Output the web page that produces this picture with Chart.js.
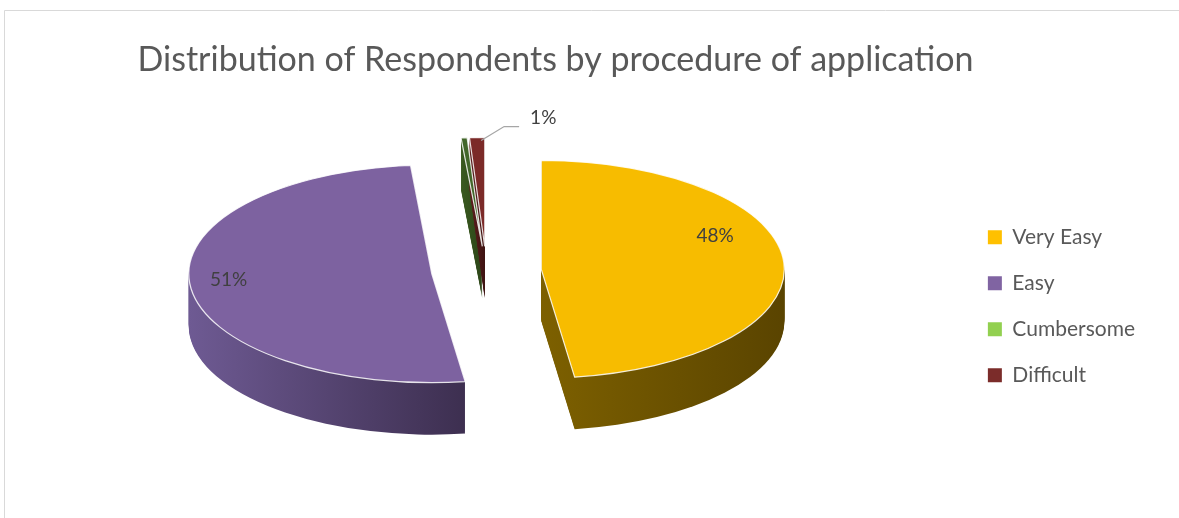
<!DOCTYPE html>
<html>
<head>
<meta charset="utf-8">
<script src="https://cdn.jsdelivr.net/npm/chart.js@4/dist/chart.umd.min.js"></script>
<style>
  html, body { margin: 0; padding: 0; background: #fff; }
  #wrap { width: 1179px; height: 518px; }
</style>
</head>
<body>
<div id="wrap"><canvas id="pieChart" width="1179" height="518"></canvas></div>
<script>
const chartTitle = "Distribution of Respondents by procedure of application";
const categories = ["Very Easy", "Easy", "Cumbersome", "Difficult"];
const shares = [48, 51, 0.4, 1];

// legend swatches and the flat top of each slice
const legendColors = ["#FFC000", "#8064A2", "#92D050", "#7B2C2A"];
const topColors = ["#F7BC00", "#7D62A0", "#42662A", "#7B2A28"];
// side walls, light edge -> dark edge
const sideColors = [
    ["#7d6000", "#5a4400"],
    ["#6e5a93", "#3d2f50"],
    ["#3a5a20", "#2c4418"],
    ["#5e1f1e", "#3e1312"]
];
// where the percentage sits on each top face
const labelNudge = [[-8, -28], [-22, -3], [0, 0], [0, 0]];

const TILT = 0.448;
const DEPTH = 52;

function percentText(i) {
    const total = shares.reduce((a, b) => a + b, 0);
    const pct = Math.round(shares[i] / total * 100);
    return pct > 0 ? pct + "%" : "";
}

function sliceGeometry(chart) {
    const meta = chart.getDatasetMeta(0);
    return meta.data.map((arc, i) => {
        const p = arc.getProps(["x", "y", "startAngle", "endAngle", "outerRadius"], true);
        const mid = (p.startAngle + p.endAngle) / 2;
        const off = arc.options.offset || 0;
        return {
            i,
            ax: p.x + Math.cos(mid) * off,
            ay: p.y + Math.sin(mid) * off * TILT,
            r: p.outerRadius,
            a0: p.startAngle,
            a1: p.endAngle,
            mid
        };
    });
}

function slicePath(ctx, s, dz) {
    ctx.beginPath();
    ctx.moveTo(s.ax, s.ay + dz);
    ctx.ellipse(s.ax, s.ay + dz, s.r, s.r * TILT, 0, s.a0, s.a1);
    ctx.closePath();
}

function xExtent(s) {
    let lo = s.ax, hi = s.ax;
    for (let t = 0; t <= 40; t++) {
        const a = s.a0 + (s.a1 - s.a0) * t / 40;
        const x = s.ax + Math.cos(a) * s.r;
        lo = Math.min(lo, x);
        hi = Math.max(hi, x);
    }
    return [lo, hi];
}

// white card with a thin border, plus the heading
const frame = {
    id: "frame",
    beforeDraw(chart) {
        const ctx = chart.ctx;
        ctx.save();
        ctx.fillStyle = "#ffffff";
        ctx.fillRect(0, 0, chart.width, chart.height);
        ctx.strokeStyle = "#d9d9d9";
        ctx.lineWidth = 1;
        ctx.beginPath();
        ctx.moveTo(4.5, chart.height);
        ctx.lineTo(4.5, 10.5);
        ctx.lineTo(chart.width, 10.5);
        ctx.stroke();

        ctx.font = "34px Lato";
        ctx.fillStyle = "#595959";
        ctx.textAlign = "center";
        ctx.textBaseline = "middle";
        ctx.fillText(chartTitle, 555.5, 60.5);
        ctx.restore();
    }
};

// extruded, tilted pie built from the arc elements
const pie3d = {
    id: "pie3d",
    beforeDatasetsDraw(chart) {
        const ctx = chart.ctx;
        const slices = sliceGeometry(chart);
        ctx.save();
        slices.forEach(s => {
            if (s.a1 - s.a0 <= 0) return;
            const [lo, hi] = xExtent(s);
            const g = ctx.createLinearGradient(lo, 0, hi, 0);
            g.addColorStop(0, sideColors[s.i][0]);
            g.addColorStop(1, sideColors[s.i][1]);
            ctx.fillStyle = g;
            for (let dz = DEPTH; dz > 0; dz--) {
                slicePath(ctx, s, dz);
                ctx.fill();
            }
        });
        slices.forEach(s => {
            if (s.a1 - s.a0 <= 0) return;
            slicePath(ctx, s, 0);
            ctx.fillStyle = topColors[s.i];
            ctx.fill();
            ctx.strokeStyle = "rgba(255,255,255,0.85)";
            ctx.lineWidth = 1.2;
            ctx.stroke();
        });
        ctx.restore();
        return false;
    },
    afterDraw(chart) {
        const ctx = chart.ctx;
        const slices = sliceGeometry(chart);
        ctx.save();
        ctx.font = "19px Lato";
        ctx.fillStyle = "#404040";
        ctx.textBaseline = "middle";
        slices.forEach(s => {
            const txt = percentText(s.i);
            if (!txt) return;
            const deg = (s.a1 - s.a0) * 180 / Math.PI;
            if (deg > 20) {
                const f = 0.75;
                const x = s.ax + Math.cos(s.mid) * s.r * f + labelNudge[s.i][0];
                const y = s.ay + Math.sin(s.mid) * s.r * f * TILT + labelNudge[s.i][1];
                ctx.textAlign = "center";
                ctx.fillText(txt, x, y);
            } else {
                // small slice: label outside with a leader line
                const px = s.ax + Math.cos(s.mid) * s.r;
                const py = s.ay + Math.sin(s.mid) * s.r * TILT;
                ctx.strokeStyle = "#a6a6a6";
                ctx.lineWidth = 1.3;
                ctx.beginPath();
                ctx.moveTo(px + 4, py + 3);
                ctx.lineTo(px + 27, py - 11);
                ctx.lineTo(px + 42, py - 11);
                ctx.stroke();
                ctx.textAlign = "left";
                ctx.fillText(txt, px + 53, py - 20);
            }
        });
        ctx.restore();
    }
};

new Chart(document.getElementById("pieChart"), {
    type: "pie",
    data: {
        labels: categories,
        datasets: [{
            data: shares,
            backgroundColor: legendColors,
            borderWidth: 0,
            offset: 55,
            radius: 243
        }]
    },
    options: {
        responsive: false,
        animation: false,
        events: [],
        layout: {
            padding: { left: 10, right: 34, top: 90, bottom: 66 }
        },
        plugins: {
            title: { display: false },
            legend: {
                position: "right",
                align: "center",
                title: {
                    display: true,
                    text: " ",
                    font: { size: 12 },
                    padding: { top: 28, bottom: 28 }
                },
                labels: {
                    boxWidth: 14,
                    boxHeight: 14,
                    padding: 25,
                    color: "#595959",
                    font: { family: "Lato", size: 21 }
                }
            },
            tooltip: { enabled: false }
        }
    },
    plugins: [frame, pie3d]
});
</script>
</body>
</html>
